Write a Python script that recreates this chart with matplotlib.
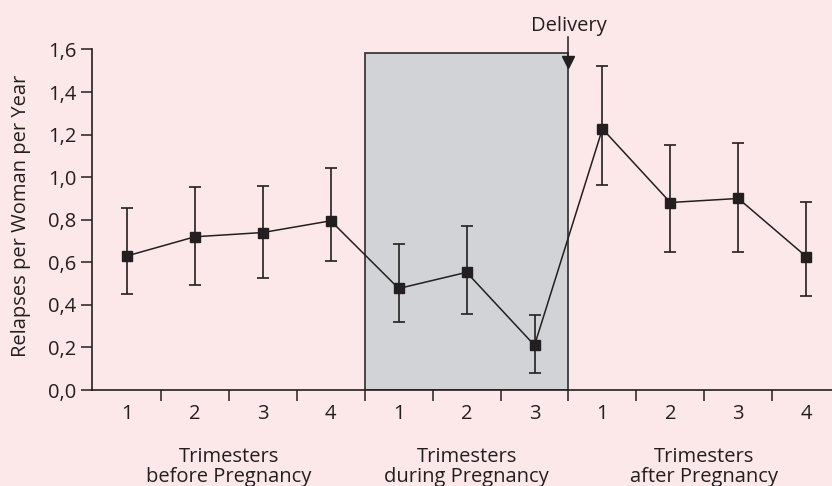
import matplotlib
matplotlib.use('Agg')
import matplotlib.pyplot as plt
import matplotlib.transforms as mtransforms
from matplotlib.patches import Rectangle

plt.rcParams['font.family'] = ['Open Sans', 'DejaVu Sans']

# trimester labels per period
periods = ['Trimesters\nbefore Pregnancy', 'Trimesters\nduring Pregnancy', 'Trimesters\nafter Pregnancy']
trimesters = [['1', '2', '3', '4'], ['1', '2', '3'], ['1', '2', '3', '4']]

# relapse rate and error bar ends
rate = [0.63, 0.72, 0.74, 0.795, 0.477, 0.553, 0.21, 1.227, 0.881, 0.90, 0.627]
err_hi = [0.853, 0.955, 0.959, 1.044, 0.685, 0.770, 0.352, 1.521, 1.150, 1.161, 0.883]
err_lo = [0.451, 0.493, 0.526, 0.607, 0.319, 0.357, 0.081, 0.962, 0.648, 0.648, 0.441]

ink = '#231f20'
bg = '#fce8e8'
fs = 14.5

fig = plt.figure(figsize=(8.32, 4.86), dpi=100, facecolor=bg)
ax = fig.add_axes([0.1106, 0.1975, 0.8894, 0.7007])
ax.set_facecolor(bg)

labels = [t for grp in trimesters for t in grp]
x = list(range(len(labels)))
ylo = [r - l for r, l in zip(rate, err_lo)]
yhi = [h - r for r, h in zip(rate, err_hi)]

# pregnancy box
n_before = len(trimesters[0])
n_during = len(trimesters[1])
box_l = n_before - 0.5
box_r = n_before + n_during - 0.5
ax.add_patch(Rectangle((box_l, 0), box_r - box_l, 1.585, facecolor='#d1d3d6',
                       edgecolor='#3a3a3a', linewidth=1.3, zorder=1))

ax.errorbar(x, rate, yerr=[ylo, yhi], fmt='s-', color=ink, ecolor=ink,
            markersize=6.5, linewidth=1.1, elinewidth=1.2, capsize=4.5,
            capthick=1.2, zorder=3)

# delivery marker
ax.plot([box_r, box_r], [1.55, 1.66], color=ink, lw=1.1, clip_on=False, zorder=4)
ax.plot([box_r], [1.54], marker='v', color=ink, markersize=8, clip_on=False, zorder=4)
ax.text(box_r, 1.71, 'Delivery', ha='center', va='center', fontsize=fs,
        color=ink, clip_on=False)

ax.set_xlim(-0.515, 10.38)
ax.set_ylim(0, 1.6)
ax.set_yticks([0, 0.2, 0.4, 0.6, 0.8, 1.0, 1.2, 1.4, 1.6])
ax.set_yticklabels(['0,0', '0,2', '0,4', '0,6', '0,8', '1,0', '1,2', '1,4', '1,6'])
ax.set_xticks(x)
ax.set_xticklabels(labels)
ax.set_xticks([i + 0.5 for i in range(len(labels) - 1)], minor=True)
ax.tick_params(axis='x', which='major', length=0, pad=10, labelsize=fs, colors=ink)
ax.tick_params(axis='x', which='minor', length=8, width=1.1, color=ink)
ax.tick_params(axis='y', length=8, width=1.1, pad=3, labelsize=fs, colors=ink)

for s in ['top', 'right']:
    ax.spines[s].set_visible(False)
for s in ['left', 'bottom']:
    ax.spines[s].set_color(ink)
    ax.spines[s].set_linewidth(1.2)

ax.set_ylabel('Relapses per Woman per Year', fontsize=fs, color=ink)
ax.yaxis.set_label_coords(-0.083, 0.51)

# period captions below the trimester numbers
trans = mtransforms.blended_transform_factory(ax.transData, ax.transAxes)
start = 0
for name, grp in zip(periods, trimesters):
    mid = start + (len(grp) - 1) / 2
    ax.text(mid, -0.227, name, transform=trans, ha='center', va='center',
            fontsize=fs, color=ink, linespacing=1.0)
    start += len(grp)

fig.savefig('out.png', dpi=100, facecolor=bg)
